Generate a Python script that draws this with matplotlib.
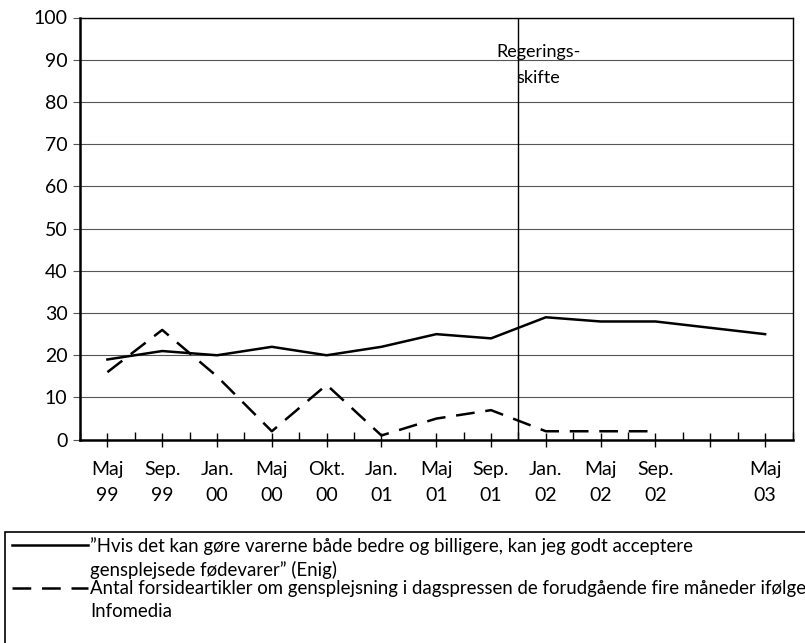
import matplotlib
matplotlib.use("Agg")
import matplotlib.pyplot as plt
from matplotlib.lines import Line2D
from matplotlib.patches import Rectangle
import numpy as np

plt.rcParams['font.family'] = ['Lato', 'DejaVu Sans']

categories = ["Maj\n99", "Sep.\n99", "Jan.\n00", "Maj\n00", "Okt.\n00", "Jan.\n01",
              "Maj\n01", "Sep.\n01", "Jan.\n02", "Maj\n02", "Sep.\n02", "", "Maj\n03"]
enig = [19, 21, 20, 22, 20, 22, 25, 24, 29, 28, 28, None, 25]
artikler = [16, 26, 15, 2, 13, 1, 5, 7, 2, 2, 2, None, None]
label_enig = "\u201dHvis det kan gøre varerne både bedre og billigere, kan jeg godt acceptere\ngensplejsede fødevarer\u201d (Enig)"
label_art = "Antal forsideartikler om gensplejsning i dagspressen de forudgående fire måneder ifølge\nInfomedia"
event_label = "Regerings-\nskifte"
yticks = list(range(0, 101, 10))

fig = plt.figure(figsize=(8.05, 6.43), dpi=100)
ax = fig.add_axes([80/805, 1-439.7/643, (792.5-80)/805, (439.7-17.5)/643])

x = np.arange(len(categories))
ye = np.array([np.nan if v is None else v for v in enig], dtype=float)
ya = np.array([np.nan if v is None else v for v in artikler], dtype=float)
me = ~np.isnan(ye)
ma = ~np.isnan(ya)

solid_kw = dict(color='black', lw=1.8, solid_joinstyle='miter')
dash_kw = dict(color='black', lw=1.8, dashes=(7.5, 4.3))
ax.plot(x[me], ye[me], **solid_kw)
ax.plot(x[ma], ya[ma], **dash_kw)

ax.set_xlim(-0.5, len(categories) - 0.5)
ax.set_ylim(0, 100)
ax.set_yticks(yticks)
ax.yaxis.grid(True, color='#555555', lw=0.8)
ax.set_axisbelow(True)
ax.tick_params(axis='y', length=5, color='#555555', labelsize=14, pad=4)

ax.set_xticks(x)
ax.set_xticklabels(categories, fontsize=14, linespacing=1.65)
ax.set_xticks(np.arange(-0.5, len(categories)), minor=True)
ax.tick_params(axis='x', which='major', direction='inout', length=10, width=1, pad=10)
ax.tick_params(axis='x', which='minor', direction='in', length=6, width=1)

for s in ['left', 'bottom']:
    ax.spines[s].set_linewidth(1.8)
for s in ['top', 'right']:
    ax.spines[s].set_linewidth(1.0)

ax.axvline(7.5, color='black', lw=1.0)
ax.text(7.86, 88.8, event_label, ha='center', va='center', fontsize=13, linespacing=1.75)

# legend box
fig.patches.append(Rectangle((5/805, -0.1), 1.2, 0.1 + (643-532)/643, transform=fig.transFigure,
                             fill=False, edgecolor='black', lw=1.2))
y1 = 1 - 545/643
y2 = 1 - 588/643
fig.add_artist(Line2D([12/805, 88/805], [y1, y1], transform=fig.transFigure, **solid_kw))
fig.add_artist(Line2D([12/805, 88/805], [y2, y2], transform=fig.transFigure, **dash_kw))
fig.text(90/805, y1 + 8/643, label_enig, ha='left', va='top', fontsize=13.4, linespacing=1.42)
fig.text(90/805, y2 + 8/643, label_art, ha='left', va='top', fontsize=13.4, linespacing=1.42)

fig.savefig("out.png", dpi=100)
